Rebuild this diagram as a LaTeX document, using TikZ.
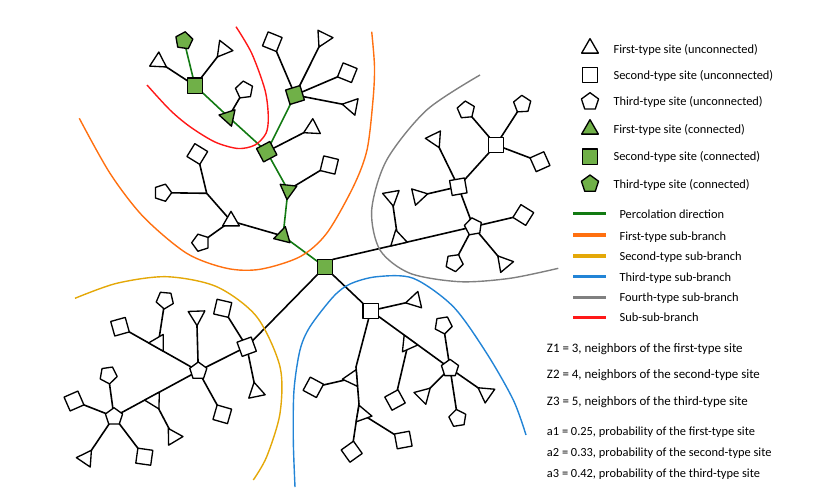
\documentclass[tikz,border=0pt]{standalone}
\usepackage{fontspec}
\setmainfont{Carlito}
\usetikzlibrary{shapes.geometric}
\pgfdeclarelayer{bg}
\pgfsetlayers{bg,main}
\definecolor{sitegreen}{RGB}{112,176,72}
\definecolor{pathgreen}{RGB}{18,122,18}
\definecolor{brorange}{RGB}{255,112,16}
\definecolor{bryellow}{RGB}{228,168,8}
\definecolor{brblue}{RGB}{34,132,214}
\definecolor{brgray}{RGB}{128,128,128}
\definecolor{brred}{RGB}{255,24,24}
\tikzset{
  site/.style={draw=black, line width=1pt, fill=white, inner sep=0pt, outer sep=0pt, regular polygon, line join=round},
  tri/.style={site, regular polygon sides=3, minimum size=14.5pt, shape border rotate=#1},
  sq/.style={site, regular polygon sides=4, minimum size=16pt, shape border rotate=#1},
  pent/.style={site, regular polygon sides=5, minimum size=13.5pt, shape border rotate=#1},
  conn/.style={fill=sitegreen},
  lnk/.style={draw=black, line width=1.2pt},
  glnk/.style={draw=pathgreen, line width=1.2pt},
  branch/.style={line width=1.05pt},
  legline/.style={line width=2.5pt},
  lbl/.style={anchor=base west, inner sep=0pt, font=\fontsize{9.3}{11}\selectfont},
  zlbl/.style={lbl, font=\fontsize{9.7}{11}\selectfont}
}
\begin{document}
\begin{tikzpicture}[x=0.75pt,y=-0.75pt]
\path[use as bounding box] (0,0) rectangle (838,487);

% ---- sub-branch curves
\draw[brred,branch] plot[smooth] coordinates {(236,26.7) (251.7,53.3) (265,90) (268.3,116.7) (266,133.3) (255,145) (238,148.5) (215,142) (190,126.7) (170,110) (147,85)};
\draw[brorange,branch] plot[smooth] coordinates {(79.3,118.3) (110,173.3) (143.3,216.7) (186.7,253.3) (226.7,268.3) (260,269.3) (300,256.7) (326.7,233.3) (353.3,186.7) (367,150) (373,100) (374.5,66.7) (371.7,31.7)};
\draw[bryellow,branch] plot[smooth] coordinates {(75,298.3) (116.7,283.3) (166.7,276.7) (216.7,286.7) (256.7,316.7) (280,366.7) (280,413.3) (266.7,456.7) (253.3,480)};
\draw[brblue,branch] plot[smooth] coordinates {(295,487) (293.3,440) (294,390) (300,350) (310,326.7) (333.3,296.7) (350,284) (376.7,276.7) (413.3,278.3) (453.3,306.7) (486.7,353.3) (513.3,400) (526,435)};
\draw[brgray,branch] plot[smooth] coordinates {(480,75) (426.7,110) (386.7,160) (371.7,210) (380,250) (410,273.3) (460,281.7) (510,278.3) (558.3,268.3)};

% ---- connected (green) sites
\node[sq=0,conn] (R) at (325,267) {};
\node[tri=-14,conn] (T3) at (283,236) {};
\node[tri=54,conn] (T2) at (288,190) {};
\node[sq=28,conn] (S2) at (266.7,151.7) {};
\node[tri=-42,conn] (T1) at (228.5,117) {};
\node[sq=0,conn] (S1) at (195,85.7) {};
\node[sq=17,conn] (S3) at (295,95) {};
\node[pent=-8,conn] (P1) at (184,40.7) {};

% ---- upper branch leaves
\node[tri=-3] (a1) at (158.3,61.7) {};
\node[tri=22] (a2) at (223.3,49.3) {};
\node[pent=7] (a3) at (244.3,90) {};
\node[sq=-22] (b1) at (272.3,41.7) {};
\node[tri=33.5] (b2) at (323.3,38.3) {};
\node[sq=-22] (b3) at (347.3,72.7) {};
\node[tri=-41] (b4) at (351.7,106) {};
\node[tri=-3] (b5) at (312.3,128.3) {};
\node[sq=-13.6] (b6) at (329.3,165) {};
\node[tri=0] (Tw) at (231,221) {};
\coordinate (J) at (206.7,193.3);
\node[sq=-31.5] (c1) at (197.3,154) {};
\node[pent=-18] (c2) at (162.7,192.7) {};
\node[pent=18] (c3) at (200.7,242.7) {};

% ---- gray branch
\node[pent=10] (Pc) at (473.3,226.7) {};
\node[sq=10] (Sb) at (458.3,186.7) {};
\node[sq=0] (Sa) at (496,145) {};
\node[pent=5] (d1) at (466,110) {};
\node[pent=3] (d2) at (522.3,104.3) {};
\node[sq=24] (d3) at (540,161.7) {};
\node[tri=-34] (d4) at (435,139) {};
\node[tri=43] (d5) at (418.3,196) {};
\node[sq=-32] (d6) at (523.3,215) {};
\node[pent=-28] (d7) at (454.3,262.7) {};
\node[tri=40] (d8) at (504,263.3) {};
\node[tri=13] (tA) at (397.9,239.3) {};
\node[tri=-50] (d9) at (391.7,196.7) {};

% ---- yellow branch
\node[sq=20] (Sy) at (246.7,346.7) {};
\node[sq=-13] (e1) at (222.7,308.3) {};
\node[tri=11.7] (e2) at (256,391.7) {};
\node[pent=0] (Py) at (198.3,371) {};
\node[tri=62] (e3) at (196.7,316) {};
\node[sq=-16] (e4) at (222.3,414.3) {};
\node[sq=15.6] (e5) at (120,326.7) {};
\node[tri=-29.5] (tb) at (158.4,342.8) {};
\node[pent=31] (e6) at (165,300) {};
\node[pent=0] (Pz) at (114,416.7) {};
\node[tri=-151.5] (tc) at (154.3,400.4) {};
\node[tri=31] (e7) at (173.3,436.7) {};
\node[pent=44] (e8) at (108.3,375) {};
\node[sq=23.6] (e9) at (74,401) {};
\node[tri=-34] (e10) at (86,458.3) {};
\node[sq=-8] (e11) at (144.3,456.7) {};

% ---- blue branch
\node[sq=0] (Sq) at (370.7,310.7) {};
\node[tri=-17] (f1) at (415,300.7) {};
\coordinate (k1) at (356,367);
\coordinate (k2) at (359,404);
\coordinate (k3) at (356.2,421.6);
\node[tri=94.6] (tri1) at (352,378.4) {};
\node[sq=-28.3] (f2) at (313.3,387.3) {};
\node[tri=-100] (tri2) at (362.4,414.4) {};
\node[sq=10.5] (f3) at (403.3,440) {};
\node[sq=35.5] (f4) at (351.7,451.7) {};
\node[pent=0] (Pb) at (450,368.3) {};
\node[tri=24] (tri3) at (408.1,344) {};
\node[sq=28.6] (f5) at (395,400) {};
\node[pent=45] (f6) at (443.3,325) {};
\node[tri=-45] (f7) at (423.3,395) {};
\node[pent=8.8] (f8) at (457.7,418.3) {};
\node[tri=55] (f9) at (486,393.3) {};

% ---- connectors
\begin{pgfonlayer}{bg}
\draw[glnk] (P1.center) -- (S1.center) -- (T1.center) -- (S2.center) -- (S3.center);
\draw[glnk] (S2.center) -- (T2.center) -- (T3.center) -- (R.center);
\draw[lnk] (S1.center) -- (a1.center);
\draw[lnk] (S1.center) -- (a2.center);
\draw[lnk] (T1.center) -- (a3.center);
\draw[lnk] (S3.center) -- (b1.center);
\draw[lnk] (S3.center) -- (b2.center);
\draw[lnk] (S3.center) -- (b3.center);
\draw[lnk] (S3.center) -- (b4.center);
\draw[lnk] (S2.center) -- (b5.center);
\draw[lnk] (T2.center) -- (b6.center);
\draw[lnk] (T3.center) -- (Tw.center) -- (J) -- (c1.center);
\draw[lnk] (J) -- (c2.center);
\draw[lnk] (Tw.center) -- (c3.center);
% gray
\draw[lnk] (R.north east) -- (Pc.center);
\draw[lnk] (tA.center) -- (d9.center);
\draw[lnk] (Pc.center) -- (Sb.center) -- (Sa.center);
\draw[lnk] (Sa.center) -- (d1.center);
\draw[lnk] (Sa.center) -- (d2.center);
\draw[lnk] (Sa.center) -- (d3.center);
\draw[lnk] (Sb.center) -- (d4.center);
\draw[lnk] (Sb.center) -- (d5.center);
\draw[lnk] (Pc.center) -- (d6.center);
\draw[lnk] (Pc.center) -- (d7.center);
\draw[lnk] (Pc.center) -- (d8.center);
% yellow
\draw[lnk] (R.south west) -- (Sy.center);
\draw[lnk] (Sy.center) -- (e1.center);
\draw[lnk] (Sy.center) -- (e2.center);
\draw[lnk] (Sy.center) -- (Py.center);
\draw[lnk] (Py.center) -- (e3.center);
\draw[lnk] (Py.center) -- (e4.center);
\draw[lnk] (e5.center) -- (Py.center);
\draw[lnk] (tb.center) -- (e6.center);
\draw[lnk] (Py.center) -- (Pz.center);
\draw[lnk] (tc.center) -- (e7.center);
\draw[lnk] (Pz.center) -- (e8.center);
\draw[lnk] (Pz.center) -- (e9.center);
\draw[lnk] (Pz.center) -- (e10.center);
\draw[lnk] (Pz.center) -- (e11.center);
% blue
\draw[lnk] (R.south east) -- (Sq.center);
\draw[lnk] (Sq.center) -- (f1.center);
\draw[lnk] (Sq.center) -- (k1) -- (k2) -- (k3) -- (f4.center);
\draw[lnk] (tri1.center) -- (f2.center);
\draw[lnk] (tri2.center) -- (f3.center);
\draw[lnk] (Sq.center) -- (Pb.center);
\draw[lnk] (tri3.center) -- (f5.center);
\draw[lnk] (Pb.center) -- (f6.center);
\draw[lnk] (Pb.center) -- (f7.center);
\draw[lnk] (Pb.center) -- (f8.center);
\draw[lnk] (Pb.center) -- (f9.center);
\end{pgfonlayer}

% ---- legend
\node[tri=0] (L1) at (590,48.3) {};
\node[sq=0] (L2) at (590,75) {};
\node[pent=0] (L3) at (590,101.7) {};
\node[tri=0,conn] (L4) at (590,129.3) {};
\node[sq=0,conn] (L5) at (590,156.7) {};
\node[pent=0,conn] (L6) at (590,184) {};
\node[lbl] (t1) at (613.3,53.3) {First-type site (unconnected)};
\node[lbl] (t2) at (613.3,79) {Second-type site (unconnected)};
\node[lbl] (t3) at (613.3,105.7) {Third-type site (unconnected)};
\node[lbl] (t4) at (613.3,133.3) {First-type site (connected)};
\node[lbl] (t5) at (613.3,160.7) {Second-type site (connected)};
\node[lbl] (t6) at (613.3,188) {Third-type site (connected)};

\coordinate (m1a) at (573.3,213.3); \coordinate (m1b) at (605.7,213.3);
\coordinate (m2a) at (573.3,235);   \coordinate (m2b) at (605.7,235);
\coordinate (m3a) at (573.3,256);   \coordinate (m3b) at (605.7,256);
\coordinate (m4a) at (573.3,276.7); \coordinate (m4b) at (605.7,276.7);
\coordinate (m5a) at (573.3,297.7); \coordinate (m5b) at (605.7,297.7);
\coordinate (m6a) at (573.3,317.7); \coordinate (m6b) at (605.7,317.7);
\draw[legline,pathgreen] (m1a) -- (m1b);
\draw[legline,brorange] (m2a) -- (m2b);
\draw[legline,bryellow] (m3a) -- (m3b);
\draw[legline,brblue] (m4a) -- (m4b);
\draw[legline,brgray] (m5a) -- (m5b);
\draw[legline,brred] (m6a) -- (m6b);
\node[lbl] (u1) at (619.3,218) {Percolation direction};
\node[lbl] (u2) at (619.3,240) {First-type sub-branch};
\node[lbl] (u3) at (619.3,260.7) {Second-type sub-branch};
\node[lbl] (u4) at (619.3,281.3) {Third-type sub-branch};
\node[lbl] (u5) at (619.3,301.3) {Fourth-type sub-branch};
\node[lbl] (u6) at (619.3,321.7) {Sub-sub-branch};

\node[zlbl] (z1) at (546.7,352.5) {Z1 = 3, neighbors of the first-type site};
\node[zlbl] (z2) at (546.7,378.2) {Z2 = 4, neighbors of the second-type site};
\node[zlbl] (z3) at (546.7,405.2) {Z3 = 5, neighbors of the third-type site};
\node[lbl] (p1) at (546.7,435.7) {a1 = 0.25, probability of the first-type site};
\node[lbl] (p2) at (546.7,456.7) {a2 = 0.33, probability of the second-type site};
\node[lbl] (p3) at (546.7,477.3) {a3 = 0.42, probability of the third-type site};
\end{tikzpicture}
\end{document}
